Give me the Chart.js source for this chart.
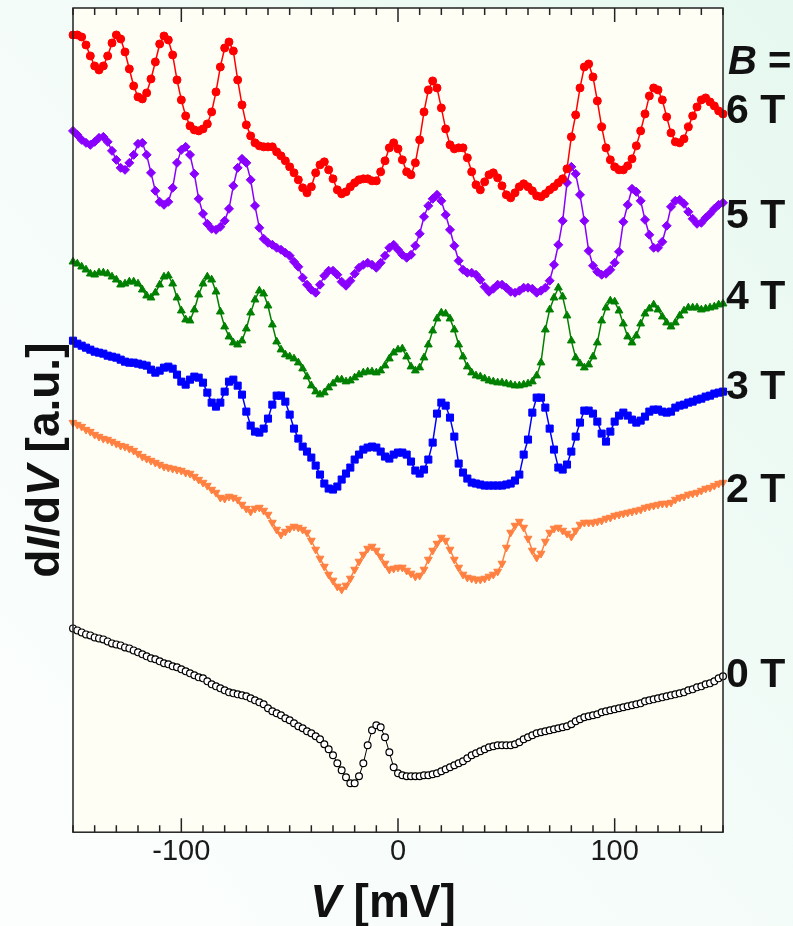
<!DOCTYPE html>
<html>
<head>
<meta charset="utf-8">
<title>dI/dV spectra vs B</title>
<script src="https://cdn.jsdelivr.net/npm/chart.js@4.4.1/dist/chart.umd.min.js"></script>
<style>
    html, body {
        margin: 0;
        padding: 0;
        width: 793px;
        height: 926px;
        overflow: hidden;
        background: linear-gradient(to top right, #fcfefd 0%, #f5fcf9 45%, #e6f8ef 100%);
    }
    #plot { display: block; }
</style>
</head>
<body>
<canvas id="plot" width="793" height="926"></canvas>
<script>
// ---- DATA ----
// bias voltage grid [mV]
const biasV = [
    -150, -148, -146, -144, -142, -140, -138, -136, -134, -132,
    -130, -128, -126, -124, -122, -120, -118, -116, -114, -112,
    -110, -108, -106, -104, -102, -100, -98, -96, -94, -92,
    -90, -88, -86, -84, -82, -80, -78, -76, -74, -72,
    -70, -68, -66, -64, -62, -60, -58, -56, -54, -52,
    -50, -48, -46, -44, -42, -40, -38, -36, -34, -32,
    -30, -28, -26, -24, -22, -20, -18, -16, -14, -12,
    -10, -8, -6, -4, -2, 0, 2, 4, 6, 8,
    10, 12, 14, 16, 18, 20, 22, 24, 26, 28,
    30, 32, 34, 36, 38, 40, 42, 44, 46, 48,
    50, 52, 54, 56, 58, 60, 62, 64, 66, 68,
    70, 72, 74, 76, 78, 80, 82, 84, 86, 88,
    90, 92, 94, 96, 98, 100, 102, 104, 106, 108,
    110, 112, 114, 116, 118, 120, 122, 124, 126, 128,
    130, 132, 134, 136, 138, 140, 142, 144, 146, 148,
    150
];

// dI/dV [a.u.], curves already offset as in the figure
const didv6T = [
    965, 965, 963, 955, 944, 934, 930, 934, 944, 957,
    965, 961, 948, 931, 914, 903, 901, 907, 921, 938,
    956, 964, 960, 945, 920, 900, 884, 874, 870, 869,
    871, 876, 888, 908, 933, 952, 958, 949, 920, 895,
    875, 864, 857, 854, 853, 853, 853, 848, 844, 839,
    833, 827, 820, 812, 807, 813, 827, 835, 838, 830,
    821, 810, 806, 808, 813, 817, 820, 821, 821, 819,
    819, 828, 839, 852, 857, 851, 840, 828, 825, 837,
    860, 888, 910, 919, 912, 892, 871, 855, 851, 852,
    852, 842, 828, 815, 810, 818, 825, 827, 822, 814,
    805, 802, 807, 813, 816, 813, 809, 804, 803, 806,
    810, 813, 817, 821, 831, 863, 885, 912, 933, 936,
    923, 899, 873, 852, 840, 833, 830, 830, 834, 841,
    854, 869, 886, 904, 912, 910, 900, 883, 867, 858,
    857, 861, 873, 884, 893, 900, 902, 898, 894, 889,
    886
];
const didv5T = [
    869, 865, 860, 857, 855, 858, 862, 863, 858, 849,
    840, 832, 830, 837, 845, 856, 857, 845, 827, 809,
    798, 795, 798, 812, 837, 850, 853, 845, 826, 801,
    786, 776, 771, 770, 773, 779, 791, 814, 832, 841,
    837, 820, 794, 772, 761, 757, 755, 752, 750, 747,
    744, 738, 733, 722, 715, 710, 707, 715, 724, 729,
    729, 725, 718, 714, 719, 726, 732, 735, 737, 735,
    732, 737, 744, 752, 755, 750, 745, 742, 745, 754,
    766, 783, 794, 801, 805, 799, 785, 770, 754, 739,
    730, 727, 727, 725, 720, 713, 708, 711, 715, 715,
    712, 708, 707, 709, 712, 712, 711, 707, 709, 712,
    719, 735, 755, 779, 817, 833, 826, 805, 779, 749,
    734, 728, 725, 726, 730, 737, 748, 778, 795, 811,
    808, 799, 780, 765, 752, 752, 758, 774, 793, 799,
    800, 796, 788, 781, 776, 777, 782, 786, 791, 795,
    797
];
const didv4T = [
    738, 736, 733, 730, 726, 725, 727, 727, 726, 723,
    720, 715, 716, 718, 718, 716, 710, 704, 702, 707,
    715, 723, 724, 716, 702, 689, 680, 679, 690, 705,
    716, 723, 720, 708, 688, 673, 663, 657, 655, 659,
    671, 687, 700, 709, 706, 694, 675, 658, 650, 645,
    643, 641, 637, 631, 623, 614, 608, 605, 607, 612,
    616, 620, 620, 618, 619, 622, 625, 627, 628, 628,
    627, 629, 634, 641, 647, 650, 651, 643, 633, 629,
    632, 642, 655, 669, 681, 687, 686, 681, 670, 655,
    643, 633, 627, 624, 623, 621, 619, 618, 617, 617,
    616, 615, 614, 614, 615, 616, 618, 624, 637, 670,
    690, 702, 712, 703, 684, 659, 642, 636, 632, 635,
    643, 657, 679, 692, 699, 698, 689, 676, 663, 657,
    664, 676, 686, 691, 695, 690, 683, 677, 673, 677,
    684, 689, 692, 692, 692, 690, 691, 692, 693, 695,
    696
];
const didv3T = [
    659, 656, 654, 652, 650, 648, 647, 646, 644, 643,
    642, 640, 638, 637, 637, 636, 635, 634, 630, 627,
    629, 632, 633, 631, 625, 618, 615, 620, 623, 622,
    617, 607, 597, 593, 597, 608, 618, 620, 614, 605,
    588, 574, 568, 567, 571, 581, 595, 604, 604, 598,
    585, 571, 561, 553, 548, 542, 534, 525, 516, 511,
    510, 513, 520, 526, 532, 540, 545, 550, 552, 553,
    552, 548, 543, 541, 545, 547, 547, 545, 538, 529,
    526, 530, 540, 557, 586, 597, 594, 582, 563, 536,
    527, 521, 517, 516, 515, 514, 514, 514, 514, 514,
    515, 516, 519, 525, 545, 560, 587, 602, 602, 592,
    571, 550, 532, 530, 535, 548, 563, 577, 589, 589,
    586, 578, 566, 558, 568, 578, 584, 587, 584, 580,
    577, 579, 583, 588, 590, 590, 588, 587, 588, 592,
    594, 595, 597, 598, 600, 601, 603, 604, 606, 607,
    608
];
const didv2T = [
    577, 575, 573, 570, 568, 565, 563, 561, 560, 558,
    556, 554, 553, 551, 549, 546, 543, 541, 539, 537,
    535, 533, 532, 531, 530, 529, 527, 526, 523, 520,
    517, 514, 510, 507, 502, 501, 503, 502, 500, 495,
    491, 488, 491, 492, 489, 485, 477, 470, 465, 468,
    471, 473, 472, 470, 467, 459, 450, 441, 433, 425,
    419, 413, 410, 414, 421, 430, 438, 445, 451, 453,
    449, 443, 436, 430, 431, 432, 432, 429, 426, 423,
    424, 430, 440, 449, 456, 462, 459, 450, 440, 432,
    425, 422, 421, 420, 420, 421, 423, 425, 428, 436,
    452, 467, 474, 478, 472, 461, 449, 442, 446, 458,
    467, 471, 472, 469, 466, 463, 469, 475, 477, 477,
    477, 478, 479, 481, 482, 484, 485, 486, 487, 488,
    489, 490, 492, 493, 494, 495, 496, 496, 497, 500,
    502, 503, 505, 506, 507, 509, 511, 512, 514, 516,
    517
];
const didv0T = [
    371, 369, 367, 365, 364, 362, 361, 360, 358, 356,
    355, 354, 352, 351, 349, 347, 345, 343, 341, 340,
    338, 336, 335, 333, 332, 330, 328, 326, 324, 322,
    321, 318, 315, 313, 311, 309, 307, 306, 305, 304,
    303, 301, 299, 297, 295, 291, 288, 286, 284, 281,
    279, 276, 273, 271, 268, 266, 263, 260, 255, 250,
    244, 236, 229, 222, 216, 216, 223, 236, 254, 269,
    274, 272, 262, 247, 232, 226, 224, 223, 223, 223,
    223, 224, 224, 225, 226, 228, 230, 232, 234, 236,
    238, 241, 244, 246, 248, 250, 252, 253, 254, 254,
    254, 254, 255, 257, 260, 262, 264, 266, 267, 268,
    269, 270, 271, 272, 273, 275, 278, 280, 282, 283,
    284, 285, 287, 288, 289, 290, 291, 292, 293, 294,
    295, 296, 298, 299, 300, 301, 302, 303, 304, 305,
    306, 307, 309, 310, 312, 313, 315, 316, 318, 321,
    323
];

// field labels on the right, and the level (a.u.) they sit at
const fieldLabels = ['6 T', '5 T', '4 T', '3 T', '2 T', '0 T'];
const fieldLabelLevels = [888, 783, 702, 612, 509, 324];
const fieldHeaderLevel = 937;

// axis ranges and ticks
const vMin = -150;
const vMax = 150;
const vMinorStep = 10;
const vLabelTicks = [-100, 0, 100];
const yMin = 167;
const yMax = 992;

const FONT = '"Liberation Sans", Arial, sans-serif';

// ---- HELPERS ----
function toPoints(series) {
    return biasV.map((v, i) => ({ x: v, y: series[i] }));
}

function curve(series, color, style, radius, extra) {
    return Object.assign({
        data: toPoints(series),
        borderColor: color,
        backgroundColor: color,
        borderWidth: 1.5,
        pointStyle: style,
        pointRadius: radius,
        pointBackgroundColor: color,
        pointBorderColor: color,
        pointBorderWidth: 1,
        tension: 0,
        clip: false
    }, extra || {});
}

// draws mixed regular / italic runs one after another
function drawRuns(ctx, runs, x, y, size) {
    let cx = x;
    runs.forEach(run => {
        ctx.font = (run.italic ? 'italic ' : '') + 'bold ' + size + 'px ' + FONT;
        ctx.fillText(run.text, cx, y);
        cx += ctx.measureText(run.text).width;
    });
}

function runsWidth(ctx, runs, size) {
    let w = 0;
    runs.forEach(run => {
        ctx.font = (run.italic ? 'italic ' : '') + 'bold ' + size + 'px ' + FONT;
        w += ctx.measureText(run.text).width;
    });
    return w;
}

// ---- PLUGIN: frame, inward ticks, labels ----
const framePlugin = {
    id: 'frame',
    beforeDatasetsDraw(chart) {
        const { ctx, chartArea: a } = chart;
        ctx.save();
        ctx.fillStyle = '#fffef5';
        ctx.fillRect(a.left, a.top, a.right - a.left, a.bottom - a.top);
        ctx.restore();
    },
    afterDatasetsDraw(chart) {
        const { ctx, chartArea: a } = chart;
        const xs = chart.scales.x;
        ctx.save();
        ctx.strokeStyle = '#222222';
        ctx.lineWidth = 1.5;
        ctx.strokeRect(a.left, a.top, a.right - a.left, a.bottom - a.top);

        // inward tick marks on top and bottom edges
        ctx.lineWidth = 1.5;
        for (let v = vMin; v <= vMax; v += vMinorStep) {
            const px = xs.getPixelForValue(v);
            const len = vLabelTicks.indexOf(v) >= 0 ? 14 : 7;
            ctx.beginPath();
            ctx.moveTo(px, a.bottom);
            ctx.lineTo(px, a.bottom - len);
            ctx.moveTo(px, a.top);
            ctx.lineTo(px, a.top + len);
            ctx.stroke();
        }
        ctx.restore();
    },
    afterDraw(chart) {
        const { ctx, chartArea: a } = chart;
        const ys = chart.scales.y;
        ctx.save();
        ctx.fillStyle = '#111111';
        ctx.textBaseline = 'middle';
        ctx.textAlign = 'left';

        // B = header and field labels
        drawRuns(ctx, [{ text: 'B', italic: true }, { text: ' =' }], a.right + 5, ys.getPixelForValue(fieldHeaderLevel), 40);
        ctx.font = 'bold 41px ' + FONT;
        fieldLabels.forEach((txt, i) => {
            ctx.fillText(txt, a.right + 3, ys.getPixelForValue(fieldLabelLevels[i]));
        });

        // x axis title
        ctx.textBaseline = 'alphabetic';
        const xRuns = [{ text: 'V', italic: true }, { text: ' [mV]' }];
        const xw = runsWidth(ctx, xRuns, 46);
        drawRuns(ctx, xRuns, (a.left + a.right) / 2 - 15 - xw / 2, 917, 46);

        // y axis title, rotated
        const yRuns = [
            { text: 'd' }, { text: 'I', italic: true }, { text: '/d' },
            { text: 'V', italic: true }, { text: ' [a.u.]' }
        ];
        const yw = runsWidth(ctx, yRuns, 46);
        ctx.translate(59, (a.top + a.bottom) / 2 + 40);
        ctx.rotate(-Math.PI / 2);
        drawRuns(ctx, yRuns, -yw / 2, 0, 46);
        ctx.restore();
    }
};

// ---- CHART ----
const datasets = [
    curve(didv6T, '#ff0000', 'circle', 4),
    curve(didv5T, '#8a00ff', 'rectRot', 4.5),
    curve(didv4T, '#008000', 'triangle', 4.5),
    curve(didv3T, '#0000ff', 'rect', 5),
    curve(didv2T, '#ff8040', 'triangle', 4.5, { pointRotation: 180 }),
    curve(didv0T, '#000000', 'circle', 3.4, {
        borderWidth: 1,
        pointBackgroundColor: '#ffffff',
        pointBorderColor: '#000000',
        pointBorderWidth: 1.2
    })
];

new Chart(document.getElementById('plot'), {
    type: 'line',
    data: { datasets: datasets },
    options: {
        responsive: false,
        animation: false,
        devicePixelRatio: 1,
        layout: { padding: { left: 73, right: 70, top: 8, bottom: 55 } },
        plugins: {
            legend: { display: false },
            tooltip: { enabled: false }
        },
        scales: {
            x: {
                type: 'linear',
                min: vMin,
                max: vMax,
                grid: { display: false, drawTicks: false },
                border: { display: false },
                ticks: {
                    stepSize: vMinorStep,
                    maxTicksLimit: 40,
                    autoSkip: false,
                    maxRotation: 0,
                    padding: 2,
                    color: '#1a1a1a',
                    font: { family: FONT, size: 29 },
                    callback: v => (vLabelTicks.indexOf(v) >= 0 ? String(v) : '')
                }
            },
            y: {
                display: false,
                min: yMin,
                max: yMax
            }
        }
    },
    plugins: [framePlugin]
});
</script>
</body>
</html>
